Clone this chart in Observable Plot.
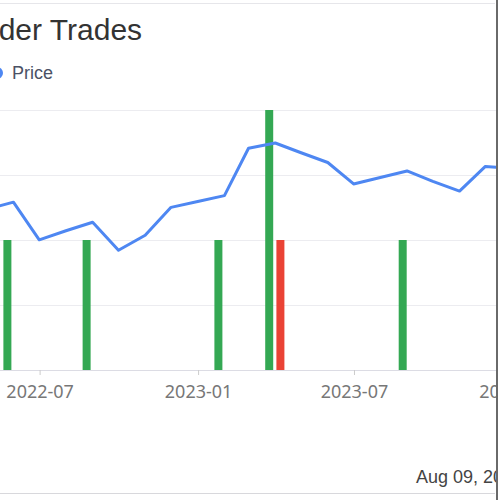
<!DOCTYPE html>
<html>
<head>
<meta charset="utf-8">
<script src="https://cdn.jsdelivr.net/npm/d3@7"></script>
<script src="https://cdn.jsdelivr.net/npm/@observablehq/plot@0.6"></script>
<style>
  html, body { margin: 0; padding: 0; background: #fff; }
  #frame { position: relative; width: 500px; height: 500px; overflow: hidden; background: #fff; font-family: "Liberation Sans", Arial, sans-serif; }
  #clip { position: absolute; left: 0; top: 0; width: 496px; height: 500px; overflow: hidden; }
  #title { position: absolute; left: -48px; top: 15px; font-size: 30px; line-height: 30px; color: #333; white-space: nowrap; }
  #legend { position: absolute; left: 0; top: 64px; height: 18px; font-size: 18px; line-height: 18px; color: #4b5165; white-space: nowrap; }
  #legend .dot { position: absolute; left: -9px; top: 3px; width: 12px; height: 12px; border-radius: 50%; background: #4e87f2; }
  #legend .lbl { position: absolute; left: 12px; top: 0; }
  #chart { position: absolute; left: 0; top: 90px; width: 540px; height: 320px; }
  #chart svg { max-width: none !important; }
  #date { position: absolute; left: 416px; top: 468px; font-size: 18px; line-height: 18px; color: #444; white-space: nowrap; }
  .hline { position: absolute; left: 0; width: 495px; height: 1px; background: #e6e6ea; }
  #rborder { position: absolute; left: 496px; top: 0; width: 2px; height: 500px; background: #6a6a6a; }
</style>
</head>
<body>
<div id="frame">
  <div id="clip">
    <div class="hline" style="top:3px"></div>
    <div id="title">Insider Trades</div>
    <div id="legend"><span class="dot"></span><span class="lbl">Price</span></div>
    <div id="chart"></div>
    <div id="date">Aug 09, 2024</div>
    <div class="hline" style="top:493px; background:#d8d8dc"></div>
  </div>
  <div id="rborder"></div>
</div>
<script>
// Monthly closing price (month-end)
const priceDates = [
  "2022-04-30","2022-05-31","2022-06-30","2022-07-31","2022-08-31","2022-09-30",
  "2022-10-31","2022-11-30","2022-12-31","2023-01-31","2023-02-28","2023-03-31",
  "2023-04-30","2023-05-31","2023-06-30","2023-07-31","2023-08-31","2023-09-30",
  "2023-10-31","2023-11-30","2023-12-31"
];
const priceValues = [
  24.8, 25.9, 20.1, 21.5, 22.8, 18.5,
  20.8, 25.1, 26.0, 26.9, 34.2, 35.0,
  33.5, 32.0, 28.7, 29.7, 30.7, 29.1,
  27.6, 31.4, 31.1
];

// Insider trades
const tradeDates = ["2022-05-24","2022-08-24","2023-01-24","2023-03-24","2023-04-06","2023-08-26"];
const tradeValues = [20, 20, 20, 40.3, 20, 20];
const tradeTypes = ["Buy","Buy","Buy","Buy","Sell","Buy"];

const xDomain = ["2022-05-16", "2024-02-02"];
const yTicks = [0, 10, 20, 30, 40];

const price = priceDates.map((d, i) => ({date: new Date(d), value: priceValues[i]}));
const trades = tradeDates.map((d, i) => ({date: new Date(d), value: tradeValues[i], type: tradeTypes[i]}));

const chart = Plot.plot({
  width: 540,
  height: 320,
  marginLeft: 0,
  marginRight: 0,
  marginTop: 20,
  marginBottom: 40,
  style: {background: "transparent", overflow: "hidden", maxWidth: "none"},
  x: {type: "utc", domain: xDomain.map(d => new Date(d))},
  y: {domain: [0, 40], axis: null},
  color: {domain: ["Buy", "Sell"], range: ["#34a853", "#ea4335"]},
  marks: [
    Plot.ruleY(yTicks.slice(1), {stroke: "#ececf0", strokeWidth: 1.2}),
    Plot.ruleX(trades, {x: "date", y1: 0, y2: "value", stroke: "type", strokeWidth: 8, clip: true}),
    Plot.line(price, {x: "date", y: "value", stroke: "#4e87f2", strokeWidth: 3, strokeLinejoin: "round", clip: true}),
    Plot.ruleY([0], {stroke: "#dcdce4", strokeWidth: 1.2}),
    Plot.axisX({
      ticks: d3.utcMonth.every(6),
      tickFormat: d3.utcFormat("%Y-%m"),
      tickSize: 5,
      tickPadding: 10,
      fontSize: 18,
      stroke: "#ccc",
      color: "#777",
      fill: "#777"
    })
  ]
});
chart.style.maxWidth = "none";
chart.setAttribute("width", 540);
document.getElementById("chart").appendChild(chart);
</script>
</body>
</html>
